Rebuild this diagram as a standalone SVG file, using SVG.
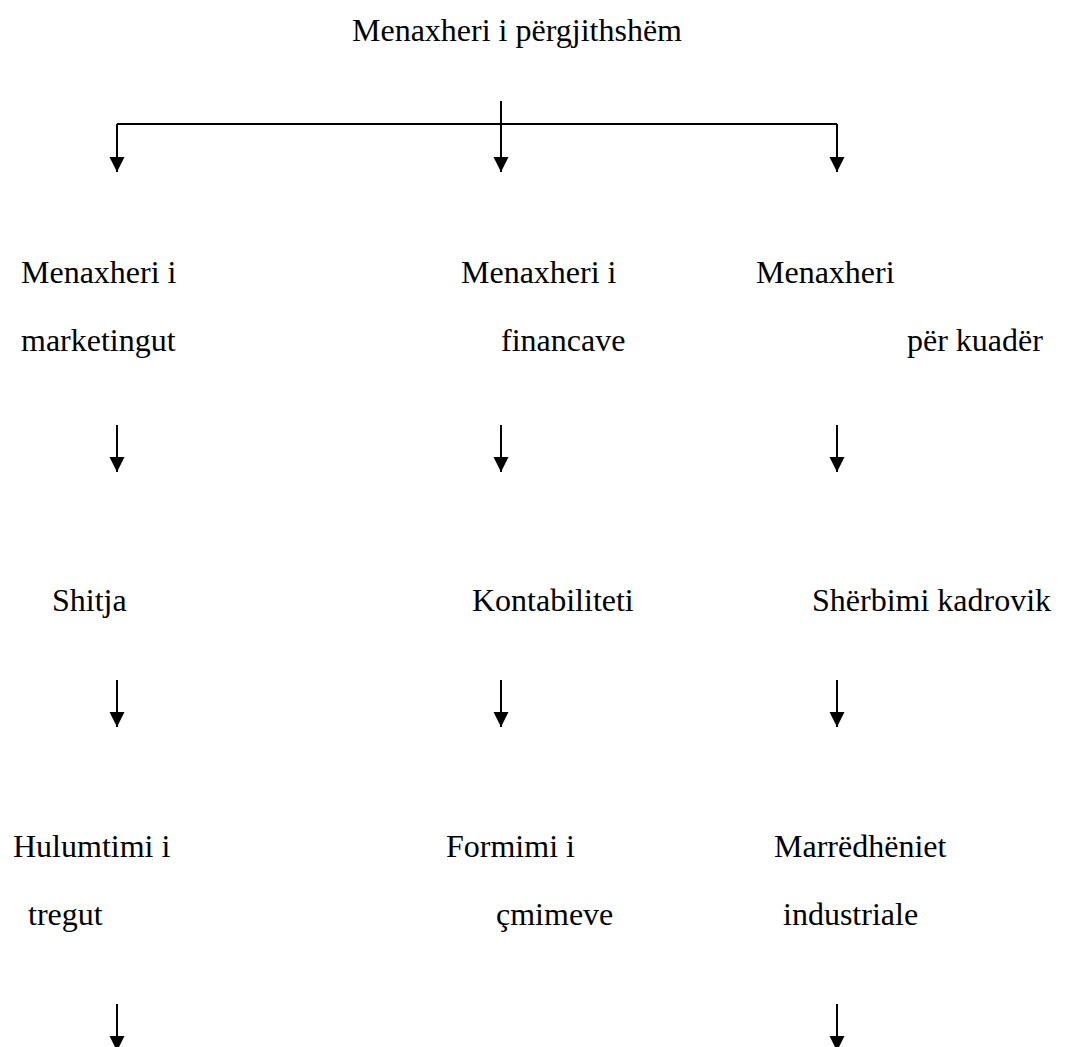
<svg xmlns="http://www.w3.org/2000/svg" width="1071" height="1047" viewBox="0 0 1071 1047">
<style>
.c{stroke:#000;stroke-width:2;fill:none}
</style>
<defs>
<marker id="ah" markerUnits="userSpaceOnUse" markerWidth="16" markerHeight="16" viewBox="0 0 16 16" refX="8" refY="15" orient="0" overflow="visible">
<polygon points="0.5,0 15.5,0 8,15" fill="#000"/>
</marker>
</defs>
<rect width="1071" height="1047" fill="#fff"/>
<g id="connectors">
<path class="c" d="M117,124 H837"/>
<path class="c" d="M117,124 V172" marker-end="url(#ah)"/>
<path class="c" d="M501,101 V172" marker-end="url(#ah)"/>
<path class="c" d="M837,124 V172" marker-end="url(#ah)"/>
<path class="c" d="M117,425 V472" marker-end="url(#ah)"/>
<path class="c" d="M501,425 V472" marker-end="url(#ah)"/>
<path class="c" d="M837,425 V472" marker-end="url(#ah)"/>
<path class="c" d="M117,680 V727" marker-end="url(#ah)"/>
<path class="c" d="M501,680 V727" marker-end="url(#ah)"/>
<path class="c" d="M837,680 V727" marker-end="url(#ah)"/>
<path class="c" d="M117,1004 V1051" marker-end="url(#ah)"/>
<path class="c" d="M837,1004 V1051" marker-end="url(#ah)"/>
</g>
<g id="n-gm"><text x="352" y="41" font-family="Liberation Serif" font-size="32">Menaxheri i përgjithshëm</text></g>
<g id="n-mkt"><text x="21" y="283" font-family="Liberation Serif" font-size="32">Menaxheri i</text><text x="21" y="351" font-family="Liberation Serif" font-size="32">marketingut</text></g>
<g id="n-fin"><text x="461" y="283" font-family="Liberation Serif" font-size="32">Menaxheri i</text><text x="501" y="351" font-family="Liberation Serif" font-size="32">financave</text></g>
<g id="n-kua"><text x="756" y="283" font-family="Liberation Serif" font-size="32">Menaxheri</text><text x="907" y="351" font-family="Liberation Serif" font-size="32">për kuadër</text></g>
<g id="n-shi"><text x="52" y="611" font-family="Liberation Serif" font-size="32">Shitja</text></g>
<g id="n-kon"><text x="472" y="611" font-family="Liberation Serif" font-size="32">Kontabiliteti</text></g>
<g id="n-she"><text x="812" y="611" font-family="Liberation Serif" font-size="32">Shërbimi kadrovik</text></g>
<g id="n-hul"><text x="13" y="857" font-family="Liberation Serif" font-size="32">Hulumtimi i</text><text x="28" y="925" font-family="Liberation Serif" font-size="32">tregut</text></g>
<g id="n-for"><text x="446" y="857" font-family="Liberation Serif" font-size="32">Formimi i</text><text x="496" y="925" font-family="Liberation Serif" font-size="32">çmimeve</text></g>
<g id="n-mar"><text x="774" y="857" font-family="Liberation Serif" font-size="32">Marrëdhëniet</text><text x="783" y="925" font-family="Liberation Serif" font-size="32">industriale</text></g>
</svg>
